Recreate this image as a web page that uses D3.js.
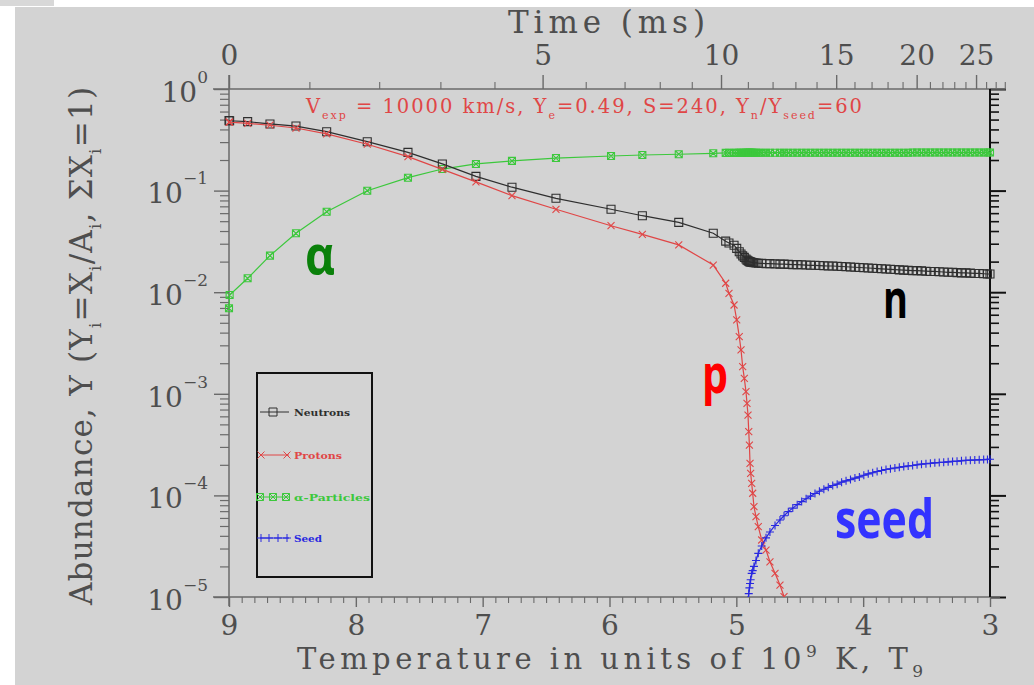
<!DOCTYPE html>
<html>
<head>
<meta charset="utf-8">
<script src="https://cdn.jsdelivr.net/npm/d3@7"></script>
<style>
  body { margin: 0; background: #fff; }
  svg { display: block; }
</style>
</head>
<body>
<svg id="chart" width="1034" height="685"></svg>
<script>
// Temperature grid (T9, units of 10^9 K) shared by all species
const T9 = [
  9.000, 8.995, 8.853, 8.677, 8.472, 8.230, 7.910, 7.589, 7.318, 7.053,
  6.769, 6.422, 5.988, 5.741, 5.454, 5.182, 5.084, 5.058, 5.018, 4.997,
  4.977, 4.963, 4.950, 4.937, 4.924, 4.916, 4.908, 4.902, 4.897, 4.892,
  4.887, 4.879, 4.871, 4.861, 4.845, 4.827, 4.800, 4.766, 4.735, 4.695,
  4.656, 4.624, 4.590, 4.555, 4.520, 4.485, 4.450, 4.415, 4.380, 4.345,
  4.310, 4.275, 4.240, 4.205, 4.170, 4.135, 4.100, 4.065, 4.030, 3.995,
  3.960, 3.925, 3.890, 3.855, 3.820, 3.785, 3.750, 3.715, 3.680, 3.645,
  3.610, 3.575, 3.540, 3.505, 3.470, 3.435, 3.400, 3.365, 3.330, 3.295,
  3.260, 3.225, 3.190, 3.155, 3.120, 3.085, 3.050, 3.020, 3.000
];

// Abundances Y on that grid (null = not plotted)
const neutrons = [
  0.488, 0.487, 0.477, 0.453, 0.432, 0.380, 0.303, 0.238, 0.183, 0.138,
  0.108, 0.0840, 0.0655, 0.0566, 0.0487, 0.0380, 0.0318, 0.0305, 0.0290, 0.0270,
  0.0250, 0.0238, 0.0228, 0.0220, 0.0212, 0.0207, 0.0204, 0.0202, 0.0200, 0.0199,
  0.0198, 0.0197, 0.0196, 0.0195, 0.0194, 0.0193, 0.0192, 0.0191, 0.0191, 0.0190,
  0.0189, 0.0189, 0.0188, 0.0187, 0.0187, 0.0186, 0.0185, 0.0184, 0.0184, 0.0183,
  0.0182, 0.0181, 0.0181, 0.0180, 0.0179, 0.0178, 0.0177, 0.0176, 0.0175, 0.0174,
  0.0173, 0.0172, 0.0171, 0.0170, 0.0169, 0.0168, 0.0167, 0.0166, 0.0165, 0.0164,
  0.0163, 0.0163, 0.0162, 0.0161, 0.0160, 0.0160, 0.0159, 0.0158, 0.0157, 0.0157,
  0.0156, 0.0155, 0.0155, 0.0154, 0.0153, 0.0153, 0.0152, 0.0151, 0.0151
];

const protons = [
  0.473, 0.472, 0.459, 0.440, 0.413, 0.361, 0.286, 0.216, 0.162, 0.122,
  0.0891, 0.0655, 0.0451, 0.0371, 0.0292, 0.0185, 0.01225, 0.00976, 0.00748, 0.00533,
  0.00365, 0.00270, 0.00185, 0.00142, 0.00105, 0.000806, 0.000618, 0.000424, 0.000313, 0.000207,
  0.000165, 0.000131, 0.000105, 7.74e-5, 6.17e-5, 4.92e-5, 3.64e-5, 2.90e-5, 2.22e-5, 1.71e-5,
  1.31e-5, 1.01e-5, 7.8e-6, null, null, null, null, null, null, null,
  null, null, null, null, null, null, null, null, null, null,
  null, null, null, null, null, null, null, null, null, null,
  null, null, null, null, null, null, null, null, null, null,
  null, null, null, null, null, null, null, null, null
];

const alphas = [
  0.00695, 0.00938, 0.0137, 0.0229, 0.0380, 0.0620, 0.0998, 0.134, 0.163, 0.183,
  0.196, 0.209, 0.219, 0.224, 0.228, 0.233, 0.235, 0.235, 0.235, 0.235,
  0.236, 0.236, 0.236, 0.236, 0.236, 0.236, 0.236, 0.236, 0.236, 0.236,
  0.236, 0.236, 0.236, 0.236, 0.236, 0.236, 0.236, 0.236, 0.236, 0.236,
  0.236, 0.236, 0.236, 0.236, 0.236, 0.236, 0.236, 0.236, 0.236, 0.236,
  0.236, 0.236, 0.236, 0.236, 0.236, 0.236, 0.236, 0.236, 0.236, 0.236,
  0.236, 0.236, 0.236, 0.236, 0.236, 0.236, 0.236, 0.236, 0.236, 0.236,
  0.237, 0.237, 0.237, 0.237, 0.237, 0.237, 0.237, 0.237, 0.237, 0.237,
  0.237, 0.237, 0.237, 0.237, 0.237, 0.237, 0.237, 0.237, 0.237
];

const seed = [
  null, null, null, null, null, null, null, null, null, null,
  null, null, null, null, null, null, null, null, null, null,
  null, null, null, null, null, null, 9.3e-6, 1.08e-5, 1.23e-5, 1.36e-5,
  1.48e-5, 1.71e-5, 1.82e-5, 2.00e-5, 2.29e-5, 2.69e-5, 3.18e-5, 3.82e-5, 4.37e-5, 5.06e-5,
  5.73e-5, 6.31e-5, 6.92e-5, 7.50e-5, 8.11e-5, 8.69e-5, 9.27e-5, 9.84e-5, 1.045e-4, 1.10e-4,
  1.15e-4, 1.20e-4, 1.25e-4, 1.29e-4, 1.35e-4, 1.39e-4, 1.43e-4, 1.48e-4, 1.52e-4, 1.58e-4,
  1.63e-4, 1.67e-4, 1.72e-4, 1.76e-4, 1.80e-4, 1.83e-4, 1.86e-4, 1.89e-4, 1.92e-4, 1.95e-4,
  1.97e-4, 2.00e-4, 2.03e-4, 2.05e-4, 2.07e-4, 2.09e-4, 2.11e-4, 2.12e-4, 2.14e-4, 2.16e-4,
  2.17e-4, 2.19e-4, 2.21e-4, 2.22e-4, 2.23e-4, 2.24e-4, 2.25e-4, 2.26e-4, 2.27e-4
];

// Axis ticks and labels
const tempTicks = [9, 8, 7, 6, 5, 4, 3];
const timeTicks = [0, 5, 10, 15, 20, 25];
const decadeExps = [0, -1, -2, -3, -4, -5];
const legendLabels = ["Neutrons", "Protons", "\u03b1-Particles", "Seed"];

// Model parameters used for the time axis: T9 = T9start / (1 + t / tau)
const T9start = 9;
const tauMs = 13.2;
const timeToT9 = t => T9start / (1 + t / tauMs);

const serif = "'DejaVu Serif', 'Liberation Serif', serif";
const axisTextColor = "#4e4e4e";
const axisGrey = "#6a6a6a";

const svg = d3.select("#chart");

// page background and plot panel
svg.append("rect").attr("width", 1034).attr("height", 685).attr("fill", "#ffffff");
svg.append("rect").attr("x", 15).attr("y", 7).attr("width", 1019).attr("height", 678).attr("fill", "#d3d3d3");
svg.append("rect").attr("x", 0).attr("y", 0).attr("width", 54).attr("height", 6).attr("fill", "#d8d8d8");

const x = d3.scaleLinear().domain([9, 3]).range([229, 990]);
const y = d3.scaleLog().domain([1, 1e-5]).range([89, 597]);

const majorDecades = decadeExps.map(e => Math.pow(10, e));
const minorDecades = [];
decadeExps.slice(1).forEach(e => {
  for (let m = 2; m <= 9; m++) minorDecades.push(m * Math.pow(10, e));
});
const minorTemps = d3.range(30, 91).filter(v => v % 10 !== 0).map(v => v / 10);
const minorTimes = d3.range(1, 29).filter(t => t % 5 !== 0);

function tidy(g, color, width) {
  g.attr("font-family", null).attr("font-size", null);
  g.select(".domain").remove();
  g.selectAll(".tick line").attr("stroke", color).attr("stroke-width", width);
  g.selectAll(".tick text")
    .attr("fill", axisTextColor)
    .style("font-family", serif)
    .style("font-size", "28px");
}

// ---- left axis (log abundance)
const gLeftMinor = svg.append("g").attr("transform", `translate(${x(9)},0)`)
  .call(d3.axisLeft(y).tickValues(minorDecades).tickSize(9).tickFormat(() => ""));
tidy(gLeftMinor, axisGrey, 1.2);

const gLeft = svg.append("g").attr("transform", `translate(${x(9)},0)`)
  .call(d3.axisLeft(y).tickValues(majorDecades).tickSize(15).tickPadding(6).tickFormat(() => "10"));
tidy(gLeft, axisGrey, 1.4);
gLeft.selectAll(".tick text")
  .attr("dy", "0.44em")
  .append("tspan")
  .attr("dy", -19)
  .style("font-size", "17px")
  .text(d => {
    const e = Math.round(Math.log10(d));
    return e < 0 ? "\u2212" + (-e) : String(e);
  });

// ---- right axis (mirror, black ticks pointing outward)
const gRightMinor = svg.append("g").attr("transform", `translate(${x(3)},0)`)
  .call(d3.axisRight(y).tickValues(minorDecades).tickSize(9).tickFormat(() => ""));
tidy(gRightMinor, "#111", 1.6);
const gRight = svg.append("g").attr("transform", `translate(${x(3)},0)`)
  .call(d3.axisRight(y).tickValues(majorDecades).tickSize(16).tickFormat(() => ""));
tidy(gRight, "#111", 2);

// ---- bottom axis (temperature)
const gBottomMinor = svg.append("g").attr("transform", `translate(0,${y(1e-5)})`)
  .call(d3.axisBottom(x).tickValues(minorTemps).tickSize(6).tickFormat(() => ""));
tidy(gBottomMinor, axisGrey, 1.1);
const gBottom = svg.append("g").attr("transform", `translate(0,${y(1e-5)})`)
  .call(d3.axisBottom(x).tickValues(tempTicks).tickSize(10).tickPadding(8).tickFormat(d3.format("d")));
tidy(gBottom, axisGrey, 1.4);

// ---- top axis (time in ms)
const gTopMinor = svg.append("g").attr("transform", `translate(0,${y(1)})`)
  .call(d3.axisTop(x).tickValues(minorTimes.map(timeToT9)).tickSize(7).tickFormat(() => ""));
tidy(gTopMinor, axisGrey, 1.1);
const gTop = svg.append("g").attr("transform", `translate(0,${y(1)})`)
  .call(d3.axisTop(x).tickValues(timeTicks.map(timeToT9)).tickSize(14).tickPadding(10)
    .tickFormat((d, i) => String(timeTicks[i])));
tidy(gTop, axisGrey, 1.4);

// axis lines, crossing slightly past the corners
const frame = svg.append("g").attr("stroke", axisGrey).attr("stroke-width", 1.5);
frame.append("line").attr("x1", x(9)).attr("x2", x(9)).attr("y1", y(1) - 14).attr("y2", y(1e-5) + 9);
frame.append("line").attr("x1", x(9) - 16).attr("x2", x(timeToT9(28)) + 1).attr("y1", y(1)).attr("y2", y(1));
frame.append("line").attr("x1", x(9) - 16).attr("x2", x(3) + 10).attr("y1", y(1e-5)).attr("y2", y(1e-5));
svg.append("line").attr("x1", x(3)).attr("x2", x(3)).attr("y1", y(1)).attr("y2", y(1e-5))
  .attr("stroke", "#111").attr("stroke-width", 2);

// ---- axis titles
svg.append("text")
  .attr("x", 508).attr("y", 33)
  .attr("textLength", 197).attr("lengthAdjust", "spacing")
  .style("font-family", serif).style("font-size", "31px").attr("fill", axisTextColor)
  .text("Time (ms)");

const xTitle = svg.append("text")
  .attr("x", 297).attr("y", 669)
  .attr("textLength", 626).attr("lengthAdjust", "spacing")
  .style("font-family", serif).style("font-size", "29px").attr("fill", axisTextColor);
xTitle.append("tspan").text("Temperature in units of 10");
xTitle.append("tspan").attr("dy", -12).style("font-size", "17px").text("9");
xTitle.append("tspan").attr("dy", 12).text(" K, T");
xTitle.append("tspan").attr("dy", 8).style("font-size", "17px").text("9");

const yTitle = svg.append("text")
  .attr("transform", "translate(92,605) rotate(-90)")
  .attr("textLength", 518).attr("lengthAdjust", "spacing")
  .style("font-family", serif).style("font-size", "31px").attr("fill", axisTextColor);
[
  ["Abundance, Y (Y", 0], ["i", 1], ["=X", 0], ["i", 1], ["/A", 0], ["i", 1],
  [", \u03a3X", 0], ["i", 1], ["=1)", 0]
].forEach(([s, sub], i, arr) => {
  const prevSub = i > 0 ? arr[i - 1][1] : 0;
  const t = yTitle.append("tspan").text(s);
  if (sub) t.attr("dy", 9).style("font-size", "17px");
  else if (prevSub) t.attr("dy", -9);
});

// ---- run parameters
const note = svg.append("text")
  .attr("x", 306).attr("y", 113)
  .attr("textLength", 556).attr("lengthAdjust", "spacing")
  .style("font-family", serif).style("font-size", "19.5px").attr("fill", "#e04646");
[
  ["V", 0], ["exp", 1], [" = 10000 km/s, Y", 0], ["e", 1], ["=0.49, S=240, Y", 0],
  ["n", 1], ["/Y", 0], ["seed", 1], ["=60", 0]
].forEach(([s, sub], i, arr) => {
  const prevSub = i > 0 ? arr[i - 1][1] : 0;
  const t = note.append("tspan").text(s);
  if (sub) t.attr("dy", 6).style("font-size", "11px");
  else if (prevSub) t.attr("dy", -6);
});

// ---- series
const markerPath = {
  square: "M-4,-4h8v8h-8z",
  cross: "M-3.5,-3.5L3.5,3.5M-3.5,3.5L3.5,-3.5",
  boxcross: "M-3.5,-3.5h7v7h-7zM-3.5,-3.5L3.5,3.5M-3.5,3.5L3.5,-3.5",
  plus: "M-4,0H4M0,-4V4"
};

const series = [
  { name: legendLabels[2], values: alphas, color: "#3cc83c", marker: "boxcross" },
  { name: legendLabels[0], values: neutrons, color: "#2e2e2e", marker: "square" },
  { name: legendLabels[1], values: protons, color: "#e04646", marker: "cross" },
  { name: legendLabels[3], values: seed, color: "#2828e0", marker: "plus" }
];

svg.append("clipPath").attr("id", "plotClip")
  .append("rect").attr("x", 200).attr("y", y(1)).attr("width", 820).attr("height", y(1e-5) - y(1));

const plot = svg.append("g").attr("clip-path", "url(#plotClip)");
const line = d3.line()
  .defined(d => d.v != null)
  .x(d => x(d.t))
  .y(d => y(d.v));

series.forEach(s => {
  const pts = T9.map((t, i) => ({ t, v: s.values[i] }));
  const g = plot.append("g");
  g.append("path").datum(pts)
    .attr("d", line)
    .attr("fill", "none")
    .attr("stroke", s.color)
    .attr("stroke-width", 1.2);
  g.selectAll("path.mk").data(pts.filter(d => d.v != null)).join("path")
    .attr("class", "mk")
    .attr("transform", d => `translate(${x(d.t)},${y(d.v)})`)
    .attr("d", markerPath[s.marker])
    .attr("fill", "none")
    .attr("stroke", s.color)
    .attr("stroke-width", 1.1);
});

// ---- legend
const legend = svg.append("g");
legend.append("rect")
  .attr("x", 257).attr("y", 373).attr("width", 115).attr("height", 204)
  .attr("fill", "none").attr("stroke", "#111").attr("stroke-width", 2);

const legendRows = [
  { s: series[1], y: 412, marks: [273], text: legendLabels[0], width: 56 },
  { s: series[2], y: 455, marks: [261, 287], text: legendLabels[1], width: 48 },
  { s: series[0], y: 497, marks: [260, 273, 286], text: legendLabels[2], width: 76 },
  { s: series[3], y: 538, marks: [261, 269, 278, 287], text: legendLabels[3], width: 28 }
];
legendRows.forEach(r => {
  legend.append("line")
    .attr("x1", 260).attr("x2", 289).attr("y1", r.y).attr("y2", r.y)
    .attr("stroke", r.s.color).attr("stroke-width", 1);
  r.marks.forEach(mx => {
    legend.append("path")
      .attr("transform", `translate(${mx},${r.y})`)
      .attr("d", markerPath[r.s.marker])
      .attr("fill", "none").attr("stroke", r.s.color).attr("stroke-width", 1);
  });
  legend.append("text")
    .attr("x", 294).attr("y", r.y + 3.5)
    .attr("textLength", r.width).attr("lengthAdjust", "spacingAndGlyphs")
    .style("font-family", serif).style("font-size", "10px").style("font-weight", "bold")
    .attr("fill", r.s.color)
    .text(r.text);
});

// ---- species labels
const bigFont = "'Open Sans', 'Noto Sans', sans-serif";
const species = [
  { text: "\u03b1", x: 305, y: 274, w: 30, color: "#0a800a" },
  { text: "n", x: 883, y: 318, w: 25, color: "#000000" },
  { text: "p", x: 702, y: 393, w: 26, color: "#ff0000" },
  { text: "seed", x: 835, y: 538, w: 99, color: "#3333ff" }
];
species.forEach(s => {
  svg.append("text")
    .attr("x", s.x).attr("y", s.y)
    .attr("textLength", s.w).attr("lengthAdjust", "spacingAndGlyphs")
    .style("font-family", bigFont).style("font-weight", "bold").style("font-size", "54px")
    .attr("fill", s.color)
    .text(s.text);
});
</script>
</body>
</html>
